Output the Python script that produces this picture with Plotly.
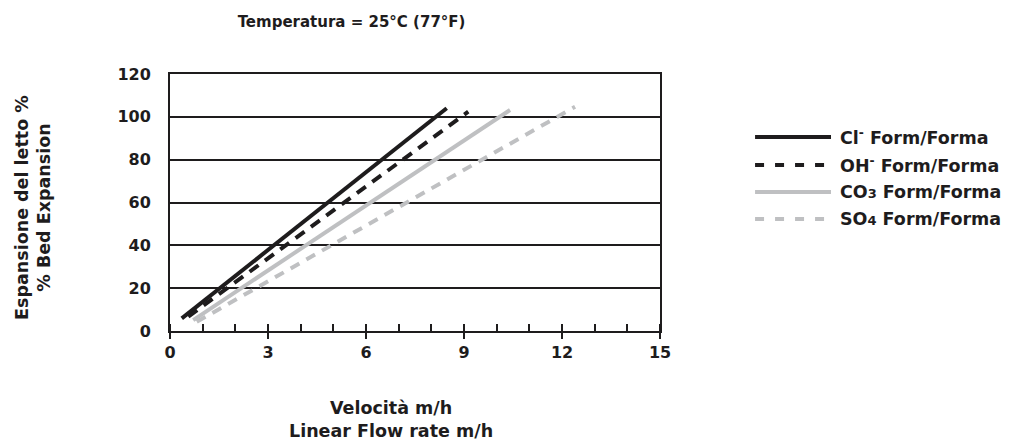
import plotly.graph_objects as go

# ---- data ----
series_names = ["Cl<sup>-</sup> Form/Forma", "OH<sup>-</sup> Form/Forma",
                "CO<span style='font-size:13px'>3</span> Form/Forma",
                "SO<span style='font-size:13px'>4</span> Form/Forma"]
cl_x = [0.36, 8.47]
cl_y = [5.9, 104.0]
oh_x = [0.56, 9.13]
oh_y = [6.7, 102.4]
co3_x = [0.71, 10.41]
co3_y = [5.1, 103.2]
so4_x = [0.82, 12.4]
so4_y = [4.3, 104.7]
x_ticks = [0, 3, 6, 9, 12, 15]
y_ticks = [0, 20, 40, 60, 80, 100, 120]

BLACK = "#1e1c1d"
GRAY = "#bfc0c2"
FONT = "DejaVu Sans"

styles = [
    dict(color=BLACK, width=4, dash="solid"),
    dict(color=BLACK, width=4, dash="11px,8px"),
    dict(color=GRAY, width=4, dash="solid"),
    dict(color=GRAY, width=4, dash="10px,8px"),
]
xs = [cl_x, oh_x, co3_x, so4_x]
ys = [cl_y, oh_y, co3_y, so4_y]

fig = go.Figure()
for name, x, y, st in zip(series_names, xs, ys, styles):
    fig.add_trace(go.Scatter(x=x, y=y, mode="lines", name=name, line=st,
                             showlegend=False))

# manual legend (long line samples like the reference)
leg_y = [0.755, 0.646, 0.541, 0.436]
leg_dash = ["solid", "9px,11px", "solid", "9px,11px"]
for name, yy, st, dsh in zip(series_names, leg_y, styles, leg_dash):
    fig.add_shape(type="line", xref="paper", yref="paper",
                  x0=1.194, x1=1.349, y0=yy, y1=yy,
                  line=dict(color=st["color"], width=4, dash=dsh))
    fig.add_annotation(xref="paper", yref="paper", x=1.363, y=yy,
                       xanchor="left", yanchor="middle", showarrow=False,
                       text=name, font=dict(family=FONT, size=17.5, color=BLACK, weight=700))

# axis titles
fig.add_annotation(xref="paper", yref="paper", x=-0.28, y=0.482,
                   textangle=-90, showarrow=False, xanchor="center", yanchor="middle",
                   text="Espansione del letto %<br>% Bed Expansion",
                   font=dict(family=FONT, size=17.5, color=BLACK, weight=700))
fig.add_annotation(xref="paper", yref="paper", x=0.451, y=-0.346,
                   showarrow=False, xanchor="center", yanchor="middle",
                   text="Velocità m/h<br>Linear Flow rate m/h",
                   font=dict(family=FONT, size=17.5, color=BLACK, weight=700))

fig.update_layout(
    width=1016, height=443,
    margin=dict(l=170, r=356, t=74, b=112),
    paper_bgcolor="white", plot_bgcolor="white",
    title=dict(text="Temperatura = 25°C (77°F)", x=0.346, xref="container",
               xanchor="center", y=0.95, yanchor="middle",
               font=dict(family=FONT, size=15, color=BLACK, weight=700)),
    font=dict(family=FONT, color=BLACK),
)
fig.update_xaxes(
    range=[0, 15], tickvals=x_ticks, showgrid=False, zeroline=False,
    showline=True, mirror=True, linecolor=BLACK, linewidth=2,
    ticks="outside", ticklen=6, tickwidth=2, tickcolor=BLACK,
    minor=dict(dtick=1, ticks="inside", ticklen=7, tickwidth=2, tickcolor=BLACK),
    tickfont=dict(family=FONT, size=16, color=BLACK, weight=700),
)
fig.update_yaxes(
    range=[0, 120], tickvals=y_ticks, showgrid=True, gridcolor=BLACK, gridwidth=2,
    zeroline=False, showline=True, mirror=True, linecolor=BLACK, linewidth=2,
    ticks="", ticklabelstandoff=14,
    tickfont=dict(family=FONT, size=16, color=BLACK, weight=700),
)

fig.write_html("out.html", config={"displayModeBar": False},
               post_script="document.body.style.margin='0';document.body.style.padding='0';")
